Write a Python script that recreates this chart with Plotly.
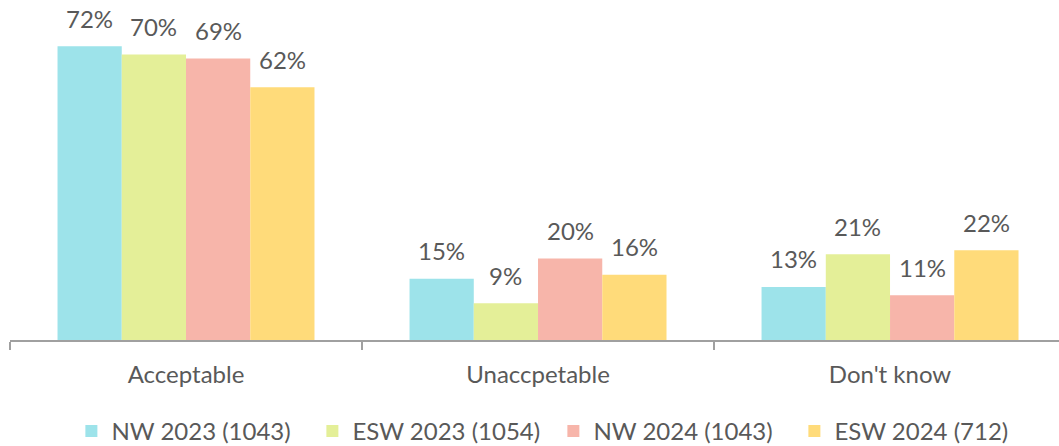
import plotly.graph_objects as go

categories = ["Acceptable", "Unaccpetable", "Don't know"]
series_names = ["NW 2023 (1043)", "ESW 2023 (1054)", "NW 2024 (1043)", "ESW 2024 (712)"]
nw_2023 = [72, 15, 13]
esw_2023 = [70, 9, 21]
nw_2024 = [69, 20, 11]
esw_2024 = [62, 16, 22]
series_values = [nw_2023, esw_2023, nw_2024, esw_2024]
colors = ["#9DE3EA", "#E4EF98", "#F7B5AA", "#FFDB7A"]

FONT = "Lato, Carlito, Calibri, sans-serif"
TXT = "#595959"

fig = go.Figure()
for name, vals, col in zip(series_names, series_values, colors):
    fig.add_trace(go.Bar(
        name=name, x=categories, y=vals, marker=dict(color=col, line=dict(width=0)),
    ))

bargap = 0.27
bw = (1 - bargap) / 4
for j, vals in enumerate(series_values):
    for i, v in enumerate(vals):
        fig.add_annotation(
            x=i + (j - 1.5) * bw, y=v, xref="x", yref="y",
            text=f"{v}%", showarrow=False, yanchor="middle", yshift=28,
            font=dict(family=FONT, size=24, color=TXT),
        )

fig.update_layout(
    width=1059, height=446,
    barmode="group", bargap=bargap, bargroupgap=0,
    paper_bgcolor="white", plot_bgcolor="white",
    margin=dict(l=10, r=0, t=8, b=106, autoexpand=False),
    font=dict(family=FONT, size=24, color=TXT),
    showlegend=True,
    legend=dict(orientation="h", x=0.518, xanchor="center", y=-0.275, yanchor="middle",
                font=dict(family=FONT, size=24, color=TXT), itemwidth=30,
                entrywidth=196, entrywidthmode="pixels",
                traceorder="normal"),
    xaxis=dict(
        range=[-0.5, 2.48], showline=True, linecolor="#A0A0A0", linewidth=2,
        ticks="outside", tickson="boundaries", ticklen=8, tickcolor="#A0A0A0",
        tickwidth=2, ticklabelstandoff=12,
        tickfont=dict(family=FONT, size=24, color=TXT),
    ),
    yaxis=dict(range=[0, 81.4], visible=False),
)

fig.write_html("out.html", config={"displayModeBar": False},
               post_script="document.body.style.margin='0';")
